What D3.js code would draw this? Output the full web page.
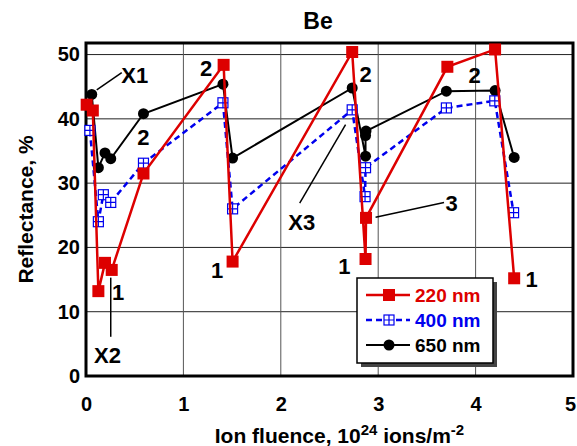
<!DOCTYPE html>
<html>
<head>
<meta charset="utf-8">
<script src="https://cdn.jsdelivr.net/npm/d3@7"></script>
<style>
  body { margin: 0; background: #fff; }
  text { font-family: "Liberation Sans", Arial, sans-serif; font-weight: bold; }
</style>
</head>
<body>
<script>
// fluence (10^24 ions/m^2) and reflectance (%) per wavelength
var redX = [0.007, 0.07, 0.127, 0.195, 0.264, 0.59, 1.413, 1.505, 2.733, 2.87, 2.875, 3.71, 4.2, 4.396];
var redY = [42.2, 41.3, 13.2, 17.6, 16.5, 31.5, 48.4, 17.8, 50.4, 18.2, 24.6, 48.1, 50.8, 15.2];
var blueX = [0.04, 0.127, 0.178, 0.254, 0.59, 1.406, 1.505, 2.733, 2.865, 2.87, 3.70, 4.197, 4.39];
var blueY = [38.2, 24.0, 28.2, 27.0, 33.1, 42.5, 26.0, 41.4, 27.9, 32.4, 41.7, 42.8, 25.4];
var blackX = [0.059, 0.127, 0.195, 0.254, 0.59, 1.406, 1.505, 2.733, 2.87, 2.87, 2.875, 3.70, 4.2, 4.396];
var blackY = [43.8, 32.4, 34.7, 33.8, 40.8, 45.4, 33.9, 44.8, 34.2, 37.4, 38.1, 44.3, 44.4, 34.0];

var xTicks = [0, 1, 2, 3, 4, 5];
var yTicks = [0, 10, 20, 30, 40, 50];

// text labels on the plot, in data units
var labels = [
  {t: "X1", x: 0.50, y: 45.6}, {t: "X2", x: 0.22, y: 2.0}, {t: "X3", x: 2.215, y: 22.7},
  {t: "3", x: 3.755, y: 25.7},
  {t: "2", x: 0.59, y: 36.0}, {t: "2", x: 1.233, y: 46.6}, {t: "2", x: 2.87, y: 45.8}, {t: "2", x: 3.99, y: 45.6},
  {t: "1", x: 0.33, y: 11.8}, {t: "1", x: 1.345, y: 15.3}, {t: "1", x: 2.654, y: 15.9}, {t: "1", x: 4.576, y: 13.9}
];
var pointers = [
  [[0.11, 44.5], [0.367, 47.2]],
  [[0.254, 15.3], [0.254, 6.1]],
  [[2.665, 39.1], [2.194, 26.9]],
  [[2.973, 24.7], [3.676, 27.0]]
];

var width = 577, height = 446;
var margin = {top: 43, right: 4, bottom: 70, left: 86};

var svg = d3.select("body").append("svg")
    .attr("width", width)
    .attr("height", height);

var x = d3.scaleLinear().domain([0, 5]).range([margin.left, width - margin.right]);
var y = d3.scaleLinear().domain([0, 51.8]).range([height - margin.bottom, margin.top]);

// grid
svg.append("g").selectAll("line").data(yTicks.slice(1)).enter().append("line")
    .attr("x1", x(0)).attr("x2", x(5))
    .attr("y1", function(d){ return y(d); }).attr("y2", function(d){ return y(d); })
    .style("stroke", "#222").style("stroke-width", 1);
svg.append("g").selectAll("line").data(xTicks.slice(1, 5)).enter().append("line")
    .attr("x1", function(d){ return x(d); }).attr("x2", function(d){ return x(d); })
    .attr("y1", y(0)).attr("y2", y(51.8))
    .style("stroke", "#555").style("stroke-width", 1);

// axes (labels only, frame drawn below)
var xAxis = svg.append("g")
    .attr("transform", "translate(0," + y(0) + ")")
    .call(d3.axisBottom(x).tickValues(xTicks).tickSize(0).tickPadding(21).tickFormat(d3.format("d")));
var yAxis = svg.append("g")
    .attr("transform", "translate(" + x(0) + ",0)")
    .call(d3.axisLeft(y).tickValues(yTicks).tickSize(0).tickPadding(6).tickFormat(d3.format("d")));
[xAxis, yAxis].forEach(function(a){
  a.select(".domain").remove();
  a.selectAll("text").style("font-size", "20px").style("fill", "#000")
    .style("font-family", "'Liberation Sans', Arial, sans-serif").style("font-weight", "bold");
});
xAxis.selectAll(".tick").filter(function(d){ return d === 5; }).select("text").attr("dx", -3);

// frame
svg.append("rect")
    .attr("x", x(0)).attr("y", y(51.8))
    .attr("width", x(5) - x(0)).attr("height", y(0) - y(51.8))
    .style("fill", "none").style("stroke", "#000").style("stroke-width", 3);

// titles
svg.append("text").attr("x", 318).attr("y", 29).attr("text-anchor", "middle")
    .style("font-size", "23px").text("Be");
svg.append("text").attr("transform", "translate(33," + ((y(0) + y(51.8)) / 2) + ") rotate(-90)")
    .attr("text-anchor", "middle").style("font-size", "21px").text("Reflectance, %");
var xt = svg.append("text").attr("x", (x(0) + x(5)) / 2 + 10).attr("y", 443)
    .attr("text-anchor", "middle").style("font-size", "21px");
xt.append("tspan").text("Ion fluence, 10");
xt.append("tspan").attr("dy", -8).style("font-size", "15px").text("24");
xt.append("tspan").attr("dy", 8).text(" ions/m");
xt.append("tspan").attr("dy", -8).style("font-size", "15px").text("-2");

// pointer lines and labels
var line = d3.line().x(function(d){ return x(d[0]); }).y(function(d){ return y(d[1]); });
svg.append("g").selectAll("path").data(pointers).enter().append("path")
    .attr("d", line).style("fill", "none").style("stroke", "#000").style("stroke-width", 1.5);
svg.append("g").selectAll("text").data(labels).enter().append("text")
    .attr("x", function(d){ return x(d.x); }).attr("y", function(d){ return y(d.y); })
    .attr("text-anchor", "middle").style("font-size", "22px").text(function(d){ return d.t; });

// series
var series = [
  {name: "650 nm", xs: blackX, ys: blackY, color: "#000", dash: null, mark: "circle"},
  {name: "400 nm", xs: blueX, ys: blueY, color: "#0000ee", dash: "6,4", mark: "cross"},
  {name: "220 nm", xs: redX, ys: redY, color: "#dd0000", dash: null, mark: "square"}
];

function drawMarker(g, m, color) {
  if (m === "circle") {
    g.append("circle").attr("r", 5.5).style("fill", color);
  } else if (m === "square") {
    g.append("rect").attr("x", -6).attr("y", -6).attr("width", 12).attr("height", 12).style("fill", color);
  } else {
    g.append("rect").attr("x", -5).attr("y", -5).attr("width", 10).attr("height", 10)
      .style("fill", "#fff").style("stroke", color).style("stroke-width", 1.2);
    g.append("path").attr("d", "M-5,0H5M0,-5V5").style("stroke", color).style("stroke-width", 1.2);
  }
}

series.forEach(function(s){
  var pts = s.xs.map(function(v, i){ return [v, s.ys[i]]; });
  svg.append("path").datum(pts).attr("d", line)
    .style("fill", "none").style("stroke", s.color)
    .style("stroke-width", s.mark === "circle" ? 2 : 2.5)
    .style("stroke-dasharray", s.dash);
  svg.append("g").selectAll("g").data(pts).enter().append("g")
    .attr("transform", function(d){ return "translate(" + x(d[0]) + "," + y(d[1]) + ")"; })
    .each(function(){ drawMarker(d3.select(this), s.mark, s.color); });
});

// legend
var lg = svg.append("g").attr("transform", "translate(357,278)");
lg.append("rect").attr("x", 4).attr("y", 4).attr("width", 136).attr("height", 85).style("fill", "#444");
lg.append("rect").attr("width", 136).attr("height", 85)
    .style("fill", "#fff").style("stroke", "#000").style("stroke-width", 1.5);
series.slice().reverse().forEach(function(s, i){
  var row = lg.append("g").attr("transform", "translate(0," + (17 + i * 25) + ")");
  row.append("line").attr("x1", 9).attr("x2", 53)
    .style("stroke", s.color).style("stroke-width", s.mark === "circle" ? 2 : 2.5)
    .style("stroke-dasharray", s.dash);
  drawMarker(row.append("g").attr("transform", "translate(32,0)"), s.mark, s.color);
  row.append("text").attr("x", 58).attr("y", 7).style("font-size", "19px")
    .style("fill", s.color).text(s.name);
});
</script>
</body>
</html>
